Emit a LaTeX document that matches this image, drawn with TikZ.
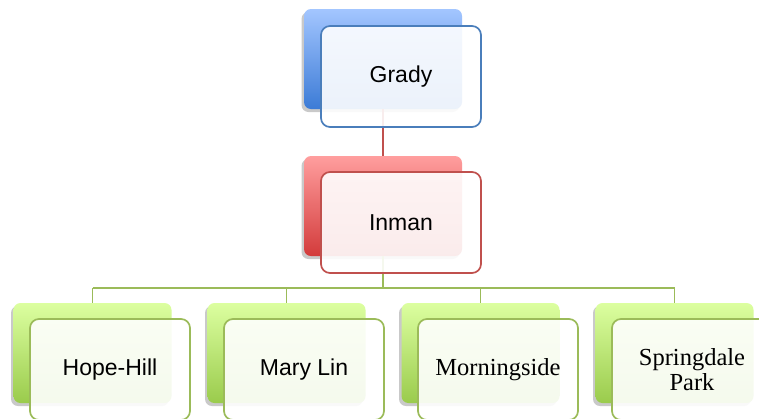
\documentclass[tikz,border=0pt]{standalone}
\usepackage{fontspec}
\setmainfont{Liberation Sans}
\newfontfamily\cambriaish{Liberation Serif}
\usetikzlibrary{shadows}
\definecolor{bluetop}{HTML}{A3C6FF}
\definecolor{bluebot}{HTML}{3C7BD6}
\definecolor{blueline}{HTML}{4A7EBB}
\definecolor{redtop}{HTML}{FF9E9E}
\definecolor{redbot}{HTML}{D33B3B}
\definecolor{redline}{HTML}{C0504D}
\definecolor{greentop}{HTML}{DCFFA0}
\definecolor{greenbot}{HTML}{9ACB4C}
\definecolor{greenline}{HTML}{9BBB59}
\tikzset{
  backbox/.style={rectangle, rounded corners=7pt, minimum width=158pt, minimum height=100pt, inner sep=0pt,
    drop shadow={shadow xshift=-2.5pt, shadow yshift=-3pt, opacity=0.35, fill=black!60}},
  frontbox/.style={rectangle, rounded corners=9pt, minimum width=160pt, minimum height=101pt, inner sep=0pt,
    draw, line width=1.7pt, fill=white, fill opacity=0.9, text opacity=1, align=center,
    font=\fontsize{23}{25}\selectfont},
  blueback/.style={backbox, top color=bluetop, bottom color=bluebot},
  redback/.style={backbox, top color=redtop, bottom color=redbot},
  greenback/.style={backbox, top color=greentop, bottom color=greenbot},
  bluefront/.style={frontbox, draw=blueline},
  redfront/.style={frontbox, draw=redline},
  greenfront/.style={frontbox, draw=greenline},
  redlink/.style={draw=redline, line width=1.8pt},
  greenlink/.style={draw=greenline, line width=1.8pt},
}
\begin{document}
\begin{tikzpicture}[x=1pt,y=-1pt]
\useasboundingbox (0,0) rectangle (759,418);
\clip (0,0) rectangle (759,418);
\fill[white] (0,0) rectangle (759,418);
% connector junction coordinates
\coordinate (j0) at (383,288);
\coordinate (j1) at (92.5,288);
\coordinate (j2) at (286.5,288);
\coordinate (j3) at (480.5,288);
\coordinate (j4) at (674.5,288);
% back boxes
\node[blueback] (gb) at (383,59) {};
\node[redback] (ib) at (383,206) {};
\node[greenback] (hb) at (92.5,353) {};
\node[greenback] (mb) at (286.5,353) {};
\node[greenback] (nb) at (480.5,353) {};
\node[greenback] (sb) at (674.5,353) {};
% connectors
\draw[redlink] (gb.south) -- (ib.north);
\draw[greenlink] (ib.south) -- (j0);
\draw[greenlink] (j1) -- (j4);
\draw[greenlink] (j1) -- (hb.north);
\draw[greenlink] (j2) -- (mb.north);
\draw[greenlink] (j3) -- (nb.north);
\draw[greenlink] (j4) -- (sb.north);
% front boxes
\node[bluefront] (gf) at (401,76.5) {Grady};
\node[redfront] (if) at (401,222.5) {Inman};
\node[greenfront] (hf) at (110,369.5) {Hope-Hill};
\node[greenfront] (mf) at (304,369.5) {Mary Lin};
\node[greenfront, font=\cambriaish\fontsize{24.5}{25}\selectfont] (nf) at (498,369.5) {Morningside};
\node[greenfront, font=\cambriaish\fontsize{24.5}{25}\selectfont] (sf) at (692,369.5) {Springdale\\Park};
\end{tikzpicture}
\end{document}
